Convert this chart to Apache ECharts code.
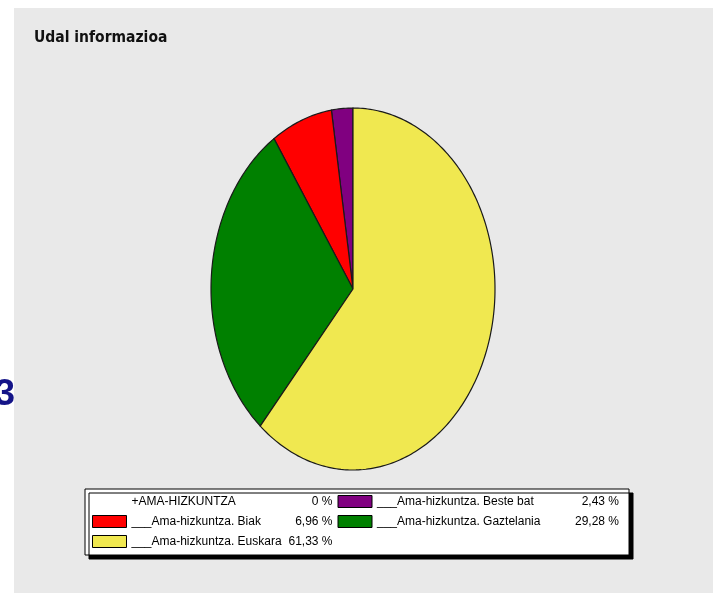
<!DOCTYPE html>
<html>
<head>
<meta charset="utf-8">
<script src="https://cdn.jsdelivr.net/npm/echarts@6/dist/echarts.min.js"></script>
<style>
html,body{margin:0;padding:0;background:#fff;}
#chart{width:715px;height:593px;}
</style>
</head>
<body>
<div id="chart"></div>
<script>
// Data (pie drawn counterclockwise from 12 o'clock in this order)
var categories = ['+AMA-HIZKUNTZA', '___Ama-hizkuntza. Beste bat', '___Ama-hizkuntza. Biak', '___Ama-hizkuntza. Gaztelania', '___Ama-hizkuntza. Euskara'];
var values = [0, 2.43, 6.96, 29.28, 61.33];
var colors = ['rgba(0,0,0,0)', '#800080', '#ff0000', '#008000', '#f0e850'];
// legend order (column by column, as in the reference)
var legendOrder = ['+AMA-HIZKUNTZA', '___Ama-hizkuntza. Biak', '___Ama-hizkuntza. Euskara', '___Ama-hizkuntza. Beste bat', '___Ama-hizkuntza. Gaztelania'];
var titleText = 'Udal informazioa';

var total = values.reduce(function (a, b) { return a + b; }, 0);
function fmtPct(v) {
  return (v === 0 ? '0' : v.toFixed(2).replace('.', ',')) + ' %';
}

var series = [];
var cum = 0;
categories.forEach(function (name, i) {
  var s = cum / total;
  cum += values[i];
  var e = cum / total;
  series.push({
    type: 'custom',
    name: name,
    coordinateSystem: 'cartesian2d',
    clip: false,
    silent: true,
    itemStyle: { color: colors[i] },
    data: [[s, e]],
    renderItem: function (params, api) {
      var a0 = api.value(0), a1 = api.value(1);
      if (a1 - a0 <= 0) return { type: 'group', children: [] };
      var pts = [api.coord([0, 0])];
      var n = Math.max(2, Math.ceil((a1 - a0) * 360));
      for (var k = 0; k <= n; k++) {
        var t = a0 + (a1 - a0) * k / n;
        var ang = Math.PI / 2 + 2 * Math.PI * t;
        pts.push(api.coord([Math.cos(ang), Math.sin(ang)]));
      }
      return {
        type: 'polygon',
        shape: { points: pts },
        style: { fill: api.visual('color'), stroke: '#1a1a1a', lineWidth: 1.2 }
      };
    }
  });
});

var col2 = { '___Ama-hizkuntza. Beste bat': true, '___Ama-hizkuntza. Gaztelania': true };
var FONT = '"Liberation Sans", Arial, sans-serif';

var chart = echarts.init(document.getElementById('chart'));
chart.setOption({
  backgroundColor: '#ffffff',
  animation: false,
  graphic: [
    { type: 'rect', z: -10, shape: { x: 14, y: 8, width: 699, height: 600 }, style: { fill: '#e9e9e9' } },
    { type: 'text', z: 10, x: 15, y: 413, style: { text: '3', font: 'bold 37px "Liberation Sans", Arial, sans-serif', fill: '#141488', textAlign: 'right', textVerticalAlign: 'bottom' } }
  ],
  title: {
    text: titleText,
    left: 34, top: 30, padding: 0,
    textStyle: { fontFamily: '"DejaVu Sans Condensed", Arial, sans-serif', fontWeight: 'bold', fontSize: 15.5, color: '#111' }
  },
  grid: { left: 211, top: 108, width: 284, height: 362 },
  xAxis: { type: 'value', min: -1, max: 1, show: false },
  yAxis: { type: 'value', min: -1, max: 1, show: false },
  legend: {
    orient: 'vertical',
    left: 85, top: 489,
    height: 56,
    padding: [5, 10, 6, 7],
    itemGap: 5,
    itemWidth: 34, itemHeight: 12,
    icon: 'rect',
    selectedMode: false,
    backgroundColor: '#ffffff',
    borderColor: '#000', borderWidth: 1,
    shadowColor: '#000', shadowBlur: 0, shadowOffsetX: 4, shadowOffsetY: 4,
    itemStyle: { borderColor: '#000', borderWidth: 1 },
    data: legendOrder.map(function (n) {
      if (n.charAt(0) === '+') {
        return { name: n, itemStyle: { color: 'rgba(0,0,0,0)', borderColor: 'rgba(0,0,0,0)' } };
      }
      return { name: n };
    }),
    formatter: function (name) {
      var v = values[categories.indexOf(name)];
      return col2[name] ? '{n2|' + name + '}{p2|' + fmtPct(v) + '}' : '{n1|' + name + '}{p1|' + fmtPct(v) + '}';
    },
    textStyle: {
      fontFamily: FONT, fontSize: 12, color: '#000',
      rich: {
        n1: { width: 150, height: 15, lineHeight: 15, fontSize: 12, fontFamily: FONT },
        p1: { width: 51, height: 15, align: 'right', lineHeight: 15, fontSize: 12, fontFamily: FONT },
        n2: { width: 190, height: 15, lineHeight: 15, fontSize: 12, fontFamily: FONT },
        p2: { width: 52, height: 15, align: 'right', lineHeight: 15, fontSize: 12, fontFamily: FONT }
      }
    }
  },
  series: series
});
</script>
</body>
</html>
